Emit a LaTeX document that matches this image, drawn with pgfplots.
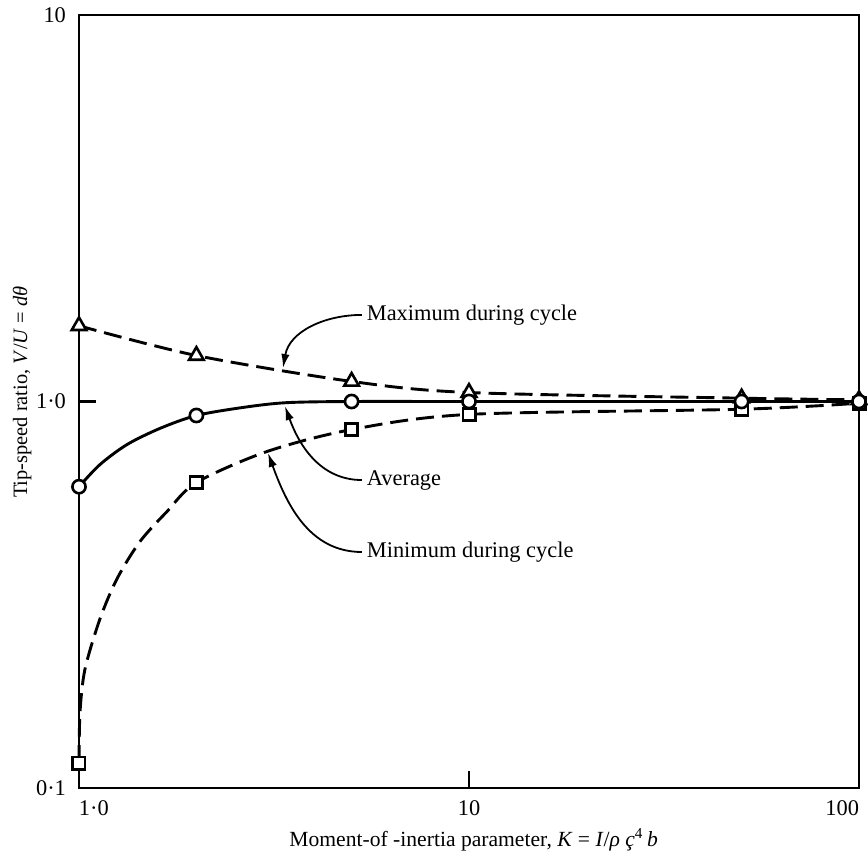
\documentclass[border=0pt]{standalone}
\usepackage{fontspec}
\setmainfont{Liberation Serif}
\usepackage{pgfplots}
\pgfplotsset{compat=1.18}
\usetikzlibrary{arrows.meta}

\begin{document}
\begin{tikzpicture}[font=\fontsize{11.2}{13.4}\selectfont]
\begin{axis}[
  scale only axis, width=390pt, height=386.5pt,
  xmode=log, ymode=log,
  xmin=1, xmax=100, ymin=0.1, ymax=10,
  axis line style={line width=1.3pt},
  tick align=inside, tick pos=left,
  major tick length=8.5pt,
  tick style={line width=1.3pt, black},
  xminorticks=false, yminorticks=false,
  xtick={1,10,100}, ytick={0.1,1,10},
  xticklabels={\makebox[0pt][l]{1·0},10,\makebox[0pt][r]{100}},
  yticklabels={0·1,1·0,10},
  xticklabel style={yshift=-3pt},
  yticklabel style={xshift=-3pt},
  xlabel={Moment-of -inertia parameter, \textit{K} = \textit{I}/\textit{ρ ç}\textsuperscript{4}\,\textit{b}},
  ylabel={Tip-speed ratio, \textit{V}/\textit{U} = \textit{dθ}},
  xlabel style={at={(rel axis cs:0.506,-0.067)}, anchor=center, font=\fontsize{10.8}{13}\selectfont},
  ylabel style={at={(rel axis cs:-0.073,0.512)}, anchor=center, font=\fontsize{10.2}{12}\selectfont},
  clip=false,
]
% Maximum during cycle (dashed)
\addplot[line width=1.45pt, dash pattern=on 9pt off 4pt, smooth] coordinates {
  (1,1.57) (2,1.315) (5,1.127) (10,1.055) (50,1.02) (100,1.01)};
% Average (solid)
\addplot[line width=1.45pt, smooth, tension=0.5] coordinates {
  (1,0.602) (1.132,0.687) (1.328,0.774) (1.613,0.852) (2,0.92) (2.63,0.965) (3.4,0.993) (5,1.0) (10,1.0) (50,1.0) (100,1.0)};
% Minimum during cycle (dashed)
\addplot[line width=1.45pt, dash pattern=on 9pt off 4pt, smooth, tension=0.5] coordinates {
  (1,0.116) (1.006,0.157) (1.036,0.203) (1.132,0.274) (1.252,0.348) (1.433,0.434) (1.681,0.519) (2,0.617) (3.03,0.742) (5,0.846) (10,0.926) (50,0.955) (100,0.99)};
% markers
\addplot[only marks, mark=triangle*, mark size=4.2pt, mark options={fill=white, draw=black, line width=1.3pt, solid}] coordinates {
  (1,1.57) (2,1.315) (5,1.127) (10,1.055) (50,1.02) (100,1.01)};
\addplot[only marks, mark=square*, mark size=3.1pt, mark options={fill=white, draw=black, line width=1.3pt, solid}] coordinates {
  (1,0.116) (2,0.617) (5,0.846) (10,0.926) (50,0.955) (100,0.99)};
\addplot[only marks, mark=*, mark size=3.3pt, mark options={fill=white, draw=black, line width=1.3pt, solid}] coordinates {
  (1,0.602) (2,0.92) (5,1.0) (10,1.0) (50,1.0) (100,1.0)};
% annotations
\draw[line width=0.9pt, -{Latex[length=7pt,width=4.2pt]}] (rel axis cs:0.3628,0.612) to[out=180,in=80] (rel axis cs:0.2615,0.5433);
\node[anchor=west, inner sep=1pt] at (rel axis cs:0.366,0.612) {Maximum during cycle};
\draw[line width=0.9pt, -{Latex[length=7pt,width=4.2pt]}] (rel axis cs:0.3628,0.3984) to[out=180,in=-70] (rel axis cs:0.264,0.494);
\node[anchor=west, inner sep=1pt] at (rel axis cs:0.366,0.3984) {Average};
\draw[line width=0.9pt, -{Latex[length=7pt,width=4.2pt]}] (rel axis cs:0.3628,0.3053) to[out=180,in=-70] (rel axis cs:0.2423,0.4334);
\node[anchor=west, inner sep=1pt] at (rel axis cs:0.366,0.3053) {Minimum during cycle};
\end{axis}
\path (current axis.south west) ++(-39.5pt,-32pt) coordinate (bl);
\path (current axis.north east) ++(4.5pt,7.5pt) coordinate (tr);
\path (bl) rectangle (tr);
\end{tikzpicture}
\end{document}
